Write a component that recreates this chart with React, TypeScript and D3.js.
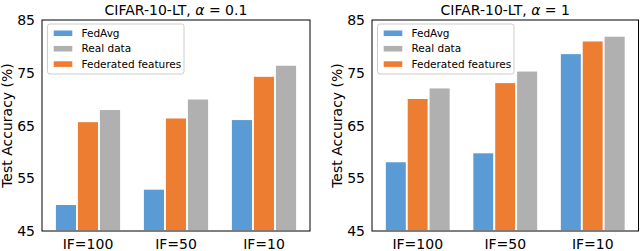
import * as d3 from "d3";
import { useEffect, useRef } from "react";

// categories and series
const groups: string[] = ["IF=100", "IF=50", "IF=10"];
const barSeries: string[] = ["FedAvg", "Federated features", "Real data"];
const legendOrder: string[] = ["FedAvg", "Real data", "Federated features"];
const yTicks: number[] = [45, 55, 65, 75, 85];

// CIFAR-10-LT, alpha = 0.1
const fedAvgA01: number[] = [50.1, 53.0, 66.2];
const fedFeatA01: number[] = [65.8, 66.5, 74.4];
const realA01: number[] = [68.1, 70.1, 76.5];

// CIFAR-10-LT, alpha = 1
const fedAvgA1: number[] = [58.2, 59.9, 78.7];
const fedFeatA1: number[] = [70.2, 73.2, 81.1];
const realA1: number[] = [72.2, 75.4, 82.0];

const colors: Record<string, string> = {
  FedAvg: "#5b9bd5",
  "Federated features": "#ed7d31",
  "Real data": "#b0b0b0",
};

const font = "DejaVu Sans, sans-serif";

const width = 640;
const height = 251;
const marginTop = 20;
const marginBottom = 20;

interface PanelDef {
  alpha: string;
  values: number[][]; // in barSeries order
  left: number;
  right: number;
  yLabelX: number;
}

const panels: PanelDef[] = [
  { alpha: "0.1", values: [fedAvgA01, fedFeatA01, realA01], left: 42, right: 310, yLabelX: 12 },
  { alpha: "1", values: [fedAvgA1, fedFeatA1, realA1], left: 372, right: 638.5, yLabelX: 342 },
];

export default function App() {
  const svgRef = useRef<SVGSVGElement | null>(null);

  useEffect(() => {
    const svg = d3.select(svgRef.current);
    svg.selectAll("*").remove(); // limpiar antes de redibujar

    const y = d3
      .scaleLinear()
      .domain([45, 85])
      .range([height - marginBottom, marginTop]);

    panels.forEach((p) => {
      const g = svg.append("g");

      // escala de grupos
      const x0 = d3
        .scaleBand()
        .domain(groups)
        .range([p.left, p.right])
        .paddingInner(0)
        .paddingOuter(0.0227);
      const inner = x0.bandwidth() * 0.75;
      const x1 = d3.scaleBand().domain(barSeries).range([0, inner]);

      // barras
      barSeries.forEach((s, si) => {
        g.append("g")
          .attr("fill", colors[s])
          .selectAll("rect")
          .data(p.values[si])
          .enter()
          .append("rect")
          .attr("x", (_d, i) => (x0(groups[i]) as number) + (x0.bandwidth() - inner) / 2 + (x1(s) as number))
          .attr("width", x1.bandwidth())
          .attr("y", (d) => y(d))
          .attr("height", (d) => y(45) - y(d))
          .attr("stroke", "#fff")
          .attr("stroke-width", 1.8);
      });

      // marco
      g.append("rect")
        .attr("x", p.left)
        .attr("y", marginTop)
        .attr("width", p.right - p.left)
        .attr("height", y(45) - marginTop)
        .attr("fill", "none")
        .attr("stroke", "#000")
        .attr("stroke-width", 1);

      // eje Y
      g.append("g")
        .selectAll("text")
        .data(yTicks)
        .enter()
        .append("text")
        .attr("x", p.left - 7)
        .attr("y", (d) => y(d))
        .attr("dy", "0.36em")
        .attr("text-anchor", "end")
        .attr("font-family", font)
        .attr("font-size", 14)
        .text((d) => d);

      // eje X
      g.append("g")
        .selectAll("text")
        .data(groups)
        .enter()
        .append("text")
        .attr("x", (d) => (x0(d) as number) + x0.bandwidth() / 2)
        .attr("y", 248.5)
        .attr("text-anchor", "middle")
        .attr("font-family", font)
        .attr("font-size", 14)
        .text((d) => d);

      // titulo
      const title = g
        .append("text")
        .attr("x", (p.left + p.right) / 2)
        .attr("y", 15)
        .attr("text-anchor", "middle")
        .attr("font-family", font)
        .attr("font-size", 14);
      title.append("tspan").text("CIFAR-10-LT, ");
      title.append("tspan").attr("font-style", "italic").text("α");
      title.append("tspan").text(" = " + p.alpha);

      // etiqueta Y
      g.append("text")
        .attr("transform", `translate(${p.yLabelX},${(marginTop + y(45)) / 2}) rotate(-90)`)
        .attr("text-anchor", "middle")
        .attr("font-family", font)
        .attr("font-size", 14)
        .text("Test Accuracy (%)");

      // leyenda
      const lx = p.left + 5.5;
      const legend = g.append("g");
      legend
        .append("rect")
        .attr("x", lx)
        .attr("y", 24)
        .attr("width", 136.5)
        .attr("height", 50)
        .attr("rx", 2.5)
        .attr("fill", "#fff")
        .attr("fill-opacity", 0.8)
        .attr("stroke", "#cccccc")
        .attr("stroke-width", 1);
      legendOrder.forEach((s, i) => {
        const cy = 33.3 + i * 15.4;
        legend
          .append("rect")
          .attr("x", lx + 5.5)
          .attr("y", cy - 3.5)
          .attr("width", 20)
          .attr("height", 7)
          .attr("fill", colors[s])
          .attr("stroke", "#fff")
          .attr("stroke-width", 1.4);
        legend
          .append("text")
          .attr("x", lx + 34)
          .attr("y", cy)
          .attr("dy", "0.36em")
          .attr("font-family", font)
          .attr("font-size", 10.5)
          .text(s);
      });
    });
  }, []);

  return (
    <svg
      ref={svgRef}
      width={width}
      height={height}
      style={{ position: "absolute", left: 0, top: 0, background: "#fff" }}
    />
  );
}
